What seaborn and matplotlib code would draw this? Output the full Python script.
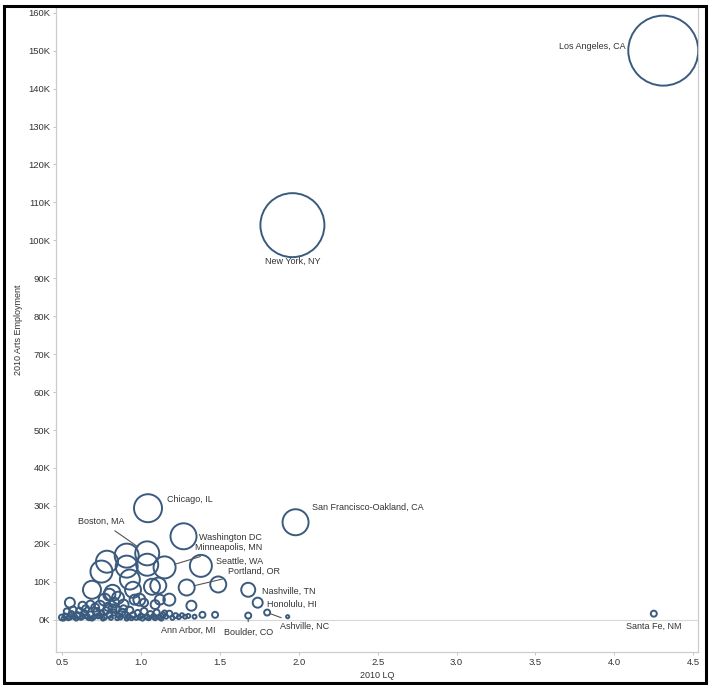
import pandas as pd
import seaborn as sns
import matplotlib.pyplot as plt
from matplotlib.patches import Rectangle
from matplotlib.ticker import FuncFormatter, MultipleLocator

# Metro areas: location quotient, arts employment (thousands), bubble size value
metro_lq = [
    4.31, 1.96, 1.045, 1.98, 1.27, 0.91, 1.04, 0.785, 0.75, 0.91, 1.04, 1.15,
    1.38, 0.93, 0.69, 0.82, 0.95, 1.07, 1.11, 1.29, 1.49, 1.68, 1.74, 1.32,
    1.18, 0.99, 0.55, 0.63, 1.39, 1.47, 1.68, 1.80, 1.93, 1.28, 4.25,
    0.80, 0.83, 0.89, 0.77, 0.74, 0.96, 1.02, 0.855, 0.68, 1.09, 1.12,
    0.50, 0.52, 0.54, 0.56, 0.58, 0.60, 0.62, 0.64, 0.66, 0.68, 0.70, 0.72,
    0.73, 0.75, 0.77, 0.78, 0.80, 0.81, 0.83, 0.84, 0.86, 0.87, 0.88, 0.90,
    0.92, 0.93, 0.95, 0.97, 0.98, 1.00, 1.02, 1.04, 1.06, 1.08, 1.10, 1.12,
    1.14, 1.16, 1.18, 1.20, 1.22, 1.24, 1.26, 0.57, 0.65, 0.71, 0.79, 0.82,
    0.89, 0.53, 0.61, 0.76, 0.94, 1.01, 1.09, 1.15, 1.30, 1.34,
    0.51, 0.55, 0.59, 0.63, 0.67, 0.69, 0.74, 0.85, 0.91, 0.99, 1.05, 1.13,
]
metro_emp_k = [
    150.0, 104.0, 29.4, 25.7, 22.0, 16.9, 17.5, 15.3, 12.7, 14.0, 14.5, 13.8,
    14.2, 10.6, 7.9, 7.1, 7.9, 8.7, 9.0, 8.5, 9.3, 7.9, 4.5, 3.7,
    5.3, 5.3, 4.5, 3.7, 1.3, 1.3, 1.1, 1.9, 0.8, 0.8, 1.6,
    6.6, 4.5, 4.0, 5.3, 3.7, 5.3, 4.5, 5.8, 4.0, 4.0, 5.3,
    0.6, 1.0, 0.4, 1.5, 0.8, 1.2, 0.5, 1.8, 0.9, 1.4, 0.6, 2.2,
    1.0, 1.6, 0.7, 2.4, 1.3, 0.5, 1.9, 2.8, 1.1, 0.6, 2.0, 1.4,
    0.8, 2.5, 1.2, 0.5, 1.8, 1.0, 2.2, 0.7, 1.5, 0.9, 1.9, 0.6,
    1.3, 0.8, 1.6, 0.5, 1.1, 0.7, 1.2, 2.6, 2.9, 3.2, 3.4, 3.0,
    2.9, 2.2, 2.4, 0.3, 0.4, 0.3, 0.4, 1.8, 1.0, 0.8,
    0.3, 0.7, 0.3, 0.9, 0.4, 0.3, 1.1, 0.4, 0.3, 0.6, 0.4, 0.3,
]
metro_size = [
    1225, 1024, 196, 169, 169, 144, 144, 121, 121, 121, 121, 121,
    121, 100, 81, 64, 64, 64, 64, 64, 64, 49, 25, 25,
    36, 36, 25, 16, 9, 9, 9, 9, 2.5, 4, 9,
    36, 25, 25, 36, 25, 25, 16, 36, 16, 20, 25,
    9, 6, 4, 9, 6, 9, 4, 9, 6, 9, 4, 12,
    6, 9, 6, 12, 9, 4, 9, 16, 6, 4, 12, 9,
    6, 12, 9, 4, 9, 6, 12, 6, 9, 6, 9, 4,
    6, 4, 9, 4, 6, 4, 4, 12, 12, 16, 16, 16,
    12, 9, 9, 4, 4, 4, 4, 6, 4, 4,
    4, 6, 4, 6, 4, 4, 6, 4, 4, 4, 4, 4,
]

# labelled metros: index into the arrays above
label_names = {
    0: "Los Angeles, CA", 1: "New York, NY", 2: "Chicago, IL",
    3: "San Francisco-Oakland, CA", 4: "Washington DC", 6: "Boston, MA",
    11: "Minneapolis, MN", 12: "Seattle, WA", 19: "Portland, OR",
    21: "Nashville, TN", 22: "Honolulu, HI", 31: "Ashville, NC",
    30: "Boulder, CO", 33: "Ann Arbor, MI", 34: "Santa Fe, NM",
}

df = pd.DataFrame({"lq": metro_lq, "emp": [v * 1000 for v in metro_emp_k],
                   "bubble": metro_size})

edge = "#3a5a7e"
txt = "#333333"

sns.set_style("white")
plt.rcParams["font.family"] = ["Liberation Sans", "DejaVu Sans"]

fig = plt.figure(figsize=(7.1, 6.85), dpi=100)
ax = fig.add_axes([56 / 710, 1 - 652 / 685, (698 - 56) / 710, (652 - 7) / 685])

ax.axhline(0, color="#d8d8d8", lw=0.8, zorder=0)
sns.scatterplot(
    data=df, x="lq", y="emp", size="bubble",
    sizes=(0, 2540), size_norm=(0, 1225),
    facecolor="none", edgecolor=edge, linewidth=1.4,
    legend=False, ax=ax, zorder=3,
)

# label offsets in points (dx, dy, ha, leader line)
label_style = {
    0: (-27, 3, "right", False), 1: (0, -26, "center", False),
    2: (14, 6, "left", False), 3: (12, 11, "left", False),
    4: (11, -1, "left", False), 6: (-33, 23, "center", True),
    11: (22, 14, "left", True), 12: (11, 3, "left", False),
    19: (30, 11.5, "left", True), 21: (10, -1, "left", False),
    22: (7, -1.5, "left", False), 31: (9.5, -10, "left", True),
    30: (0, -12, "center", True), 33: (2, -9.5, "center", False),
    34: (0, -9, "center", False),
}
for i, name in label_names.items():
    dx, dy, ha, lead = label_style[i]
    r_pt = 1.03 * metro_size[i] ** 0.5
    arrow = dict(arrowstyle="-", color="#555555", lw=0.8,
                 shrinkA=2, shrinkB=0.65 * r_pt) if lead else None
    ax.annotate(name, xy=(metro_lq[i], metro_emp_k[i] * 1000),
                xytext=(dx, dy), textcoords="offset points",
                ha=ha, va="center", fontsize=6.5, color=txt,
                arrowprops=arrow, zorder=4)

ax.set_xlim(0.462, 4.53)
ax.set_ylim(-8500, 161500)
ax.xaxis.set_major_locator(MultipleLocator(0.5))
ax.yaxis.set_major_locator(MultipleLocator(10000))
ax.xaxis.set_major_formatter(FuncFormatter(lambda v, p: f"{v:.1f}"))
ax.yaxis.set_major_formatter(FuncFormatter(lambda v, p: f"{v / 1000:.0f}K"))
ax.tick_params(axis="both", labelsize=6.8, labelcolor=txt, length=2,
               width=0.6, color="#bbbbbb", pad=2, left=True, bottom=True)
ax.set_xlabel("2010 LQ", fontsize=6.5, color=txt, labelpad=3)
ax.set_ylabel("2010 Arts Employment", fontsize=6.5, color=txt, labelpad=4)
for s in ax.spines.values():
    s.set_color("#cccccc")
    s.set_linewidth(0.9)

fig.patches.append(Rectangle((0.006, 0.003), 0.988, 0.988, fill=False,
                             edgecolor="black", linewidth=2.2,
                             transform=fig.transFigure, figure=fig))

fig.savefig("out.png", dpi=100)
